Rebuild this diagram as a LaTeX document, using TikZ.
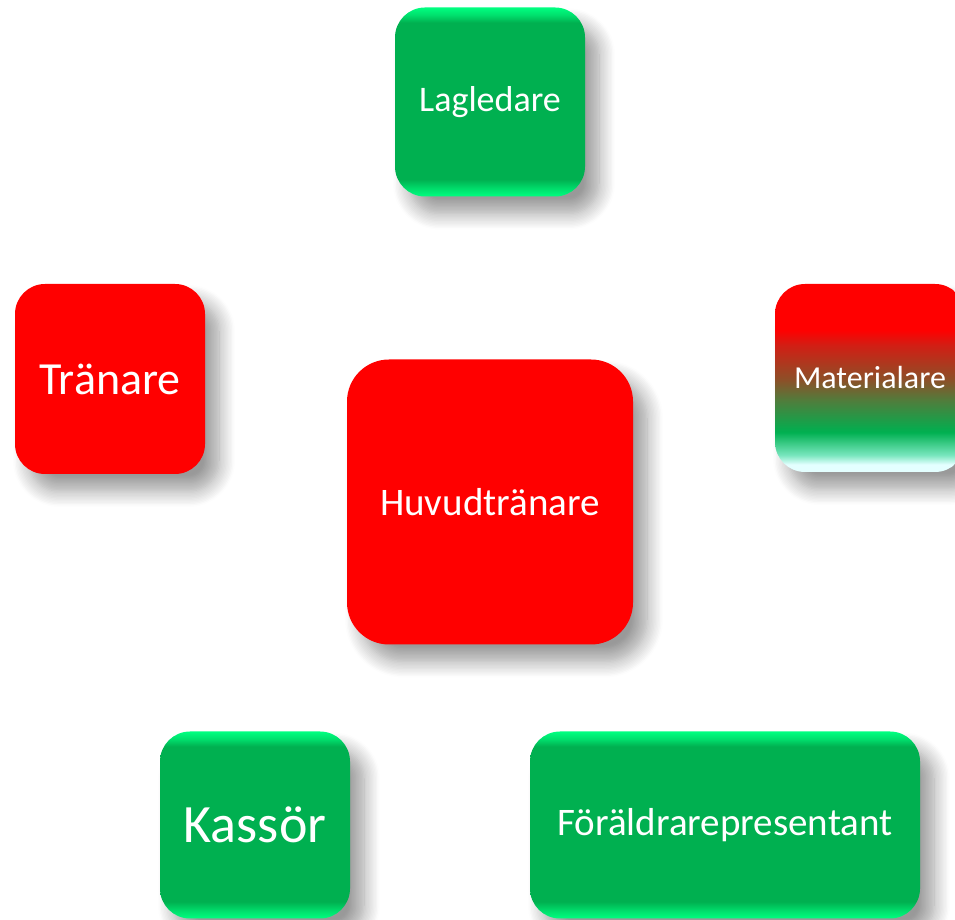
\documentclass[tikz,border=0pt]{standalone}
\usepackage{fontspec}
\setmainfont{Carlito}
\usetikzlibrary{positioning, shadows.blur}

\definecolor{offgreen}{RGB}{0,176,80}
\definecolor{glow}{RGB}{0,255,128}
\definecolor{rust}{RGB}{210,30,20}
\definecolor{mud}{RGB}{140,80,40}
\definecolor{moss}{RGB}{80,125,60}
\definecolor{seafoam}{RGB}{120,230,190}
\definecolor{icy}{RGB}{228,255,255}

\pgfdeclareverticalshading{bevel}{100bp}{color(0bp)=(glow); color(25bp)=(glow);
  color(27bp)=(glow!60!offgreen); color(29.5bp)=(offgreen); color(71bp)=(offgreen);
  color(73bp)=(glow!60!offgreen); color(75bp)=(glow); color(100bp)=(glow)}
\pgfdeclareverticalshading{redtogreen}{100bp}{color(0bp)=(icy); color(25bp)=(icy);
  color(27bp)=(icy); color(29.5bp)=(seafoam); color(35.6bp)=(offgreen);
  color(44bp)=(moss); color(49.5bp)=(mud); color(58.8bp)=(rust);
  color(62.8bp)=(red); color(100bp)=(red)}

\tikzset{
  role/.style={rectangle, rounded corners=30pt, minimum width=190pt, minimum height=189pt,
    inner sep=0pt, text=white,
    blur shadow={shadow xshift=14pt, shadow yshift=-17pt, shadow blur radius=16pt,
      shadow blur steps=12, shadow opacity=40}},
  greenrole/.style={role, shading=bevel},
  redrole/.style={role, fill=red},
  mixrole/.style={role, shading=redtogreen},
}

\begin{document}
\begin{tikzpicture}[x=1pt, y=1pt, on grid]
		\useasboundingbox (0,0) rectangle (955,920);
		
		% centre
		\node[redrole, minimum width=286pt, minimum height=285pt, rounded corners=42pt,
		  font=\fontsize{39}{44}\selectfont] (huvud) at (490,418) {Huvudtränare};
		
		% top row
		\node[greenrole, above = 400pt of huvud, font=\fontsize{36}{40}\selectfont] (lagledare) {Lagledare};
		\node[redrole, minimum height=190pt, above left = 123pt and 380pt of huvud,
		  font=\fontsize{46}{50}\selectfont] (tranare) {Tränare};
		\node[mixrole, minimum height=188pt, above right = 124pt and 380pt of huvud,
		  font=\fontsize{32}{36}\selectfont] (material) {Materialare};
		
		% bottom row
		\node[greenrole, minimum height=187pt, below left = 323pt and 235pt of huvud,
		  font=\fontsize{54}{58}\selectfont] (kassor) {Kassör};
		\node[greenrole, minimum width=390pt, minimum height=187pt, below right = 323pt and 235pt of huvud,
		  font=\fontsize{39}{44}\selectfont] (foralder) {Föräldrarepresentant};
		\end{tikzpicture}
\end{document}
